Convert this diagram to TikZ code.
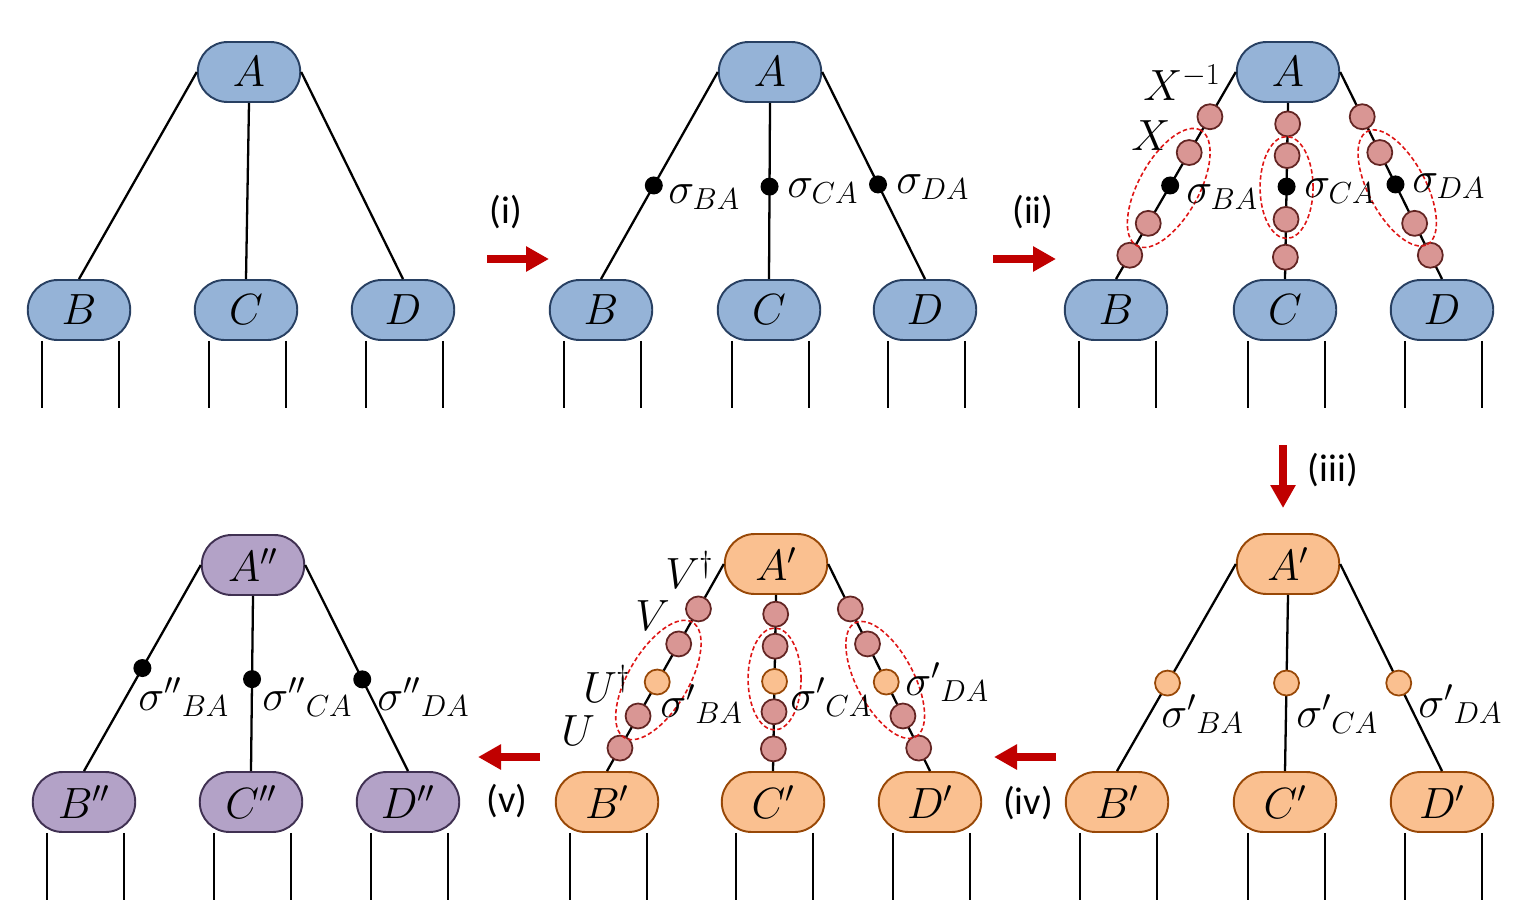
\documentclass[tikz,border=0pt]{standalone}
\usepackage{fontspec}
\usepackage{tikz}
\usetikzlibrary{arrows.meta, calc, positioning}
\newfontfamily\stepfont{Carlito}
\DeclareMathSizes{24.88}{24.88}{17.28}{14.4}
\definecolor{tblue}{RGB}{149, 179, 215}
\definecolor{tbluedk}{RGB}{40, 64, 98}
\definecolor{torange}{RGB}{250, 192, 144}
\definecolor{torangedk}{RGB}{152, 72, 7}
\definecolor{tpurple}{RGB}{179, 162, 199}
\definecolor{tpurpledk}{RGB}{64, 49, 82}
\definecolor{tpink}{RGB}{217, 150, 148}
\definecolor{tpinkdk}{RGB}{99, 37, 35}
\definecolor{stepred}{RGB}{192, 0, 0}
\definecolor{grpred}{RGB}{222, 20, 20}

\begin{document}
\begin{tikzpicture}[x=0.02cm, y=-0.02cm,
    tn/.style={rectangle, rounded corners=17pt, draw=#1dk, fill=#1, line width=1.1pt,
        minimum width=2.05cm, minimum height=1.2cm, inner sep=0pt, font=\fontsize{24.88}{28}\selectfont},
    pk/.style={circle, draw=tpinkdk, fill=tpink, line width=1pt, minimum size=0.5cm, inner sep=0pt},
    og/.style={circle, draw=torangedk, fill=torange, line width=1pt, minimum size=0.5cm, inner sep=0pt},
    bdot/.style={circle, fill=black, minimum size=0.36cm, inner sep=0pt},
    bond/.style={line width=1.3pt},
    grp/.style={draw=grpred, dash pattern=on 2.5pt off 1.5pt, line width=0.9pt},
    sig/.style={anchor=base west, inner sep=0pt, font=\fontsize{24.88}{28}\selectfont},
    stp/.style={-{Triangle[length=0.46cm, width=0.48cm]}, line width=0.16cm, stepred},
    stplab/.style={font=\stepfont\fontsize{22}{26}\selectfont}
]
\useasboundingbox (0,0) rectangle (1530,900);

% Panel 0: original tree
\node[tn=tblue] (a0) at (249,72) {$A$};
\node[tn=tblue] (b0) at (79,310) {$B$};
\node[tn=tblue] (c0) at (246,310) {$C$};
\node[tn=tblue] (d0) at (403,310) {$D$};
\draw[bond] (a0.west) -- (b0.north);
\draw[bond] (a0.south) -- (c0.north);
\draw[bond] (a0.east) -- (d0.north);

% Step (i)
\coordinate (i0) at (487,259);
\coordinate (i1) at (549,259);
\draw[stp] (i0) -- (i1);
\node[stplab] (li) at (506,212) {(i)};

% Panel 1: bond matrices
\node[tn=tblue] (a1) at (770,72) {$A$};
\node[tn=tblue] (b1) at (601,310) {$B$};
\node[tn=tblue] (c1) at (769,310) {$C$};
\node[tn=tblue] (d1) at (925,310) {$D$};
\draw[bond] (a1.west) -- (b1.north);
\draw[bond] (a1.south) -- (c1.north);
\draw[bond] (a1.east) -- (d1.north);
\node[bdot] (s1b) at ($(a1.west)!0.548!(b1.north)$) {};
\node[bdot] (s1c) at ($(a1.south)!0.475!(c1.north)$) {};
\node[bdot] (s1d) at ($(a1.east)!0.543!(d1.north)$) {};
\node[sig] (l1b) at (668,203) {$\sigma_{BA}$};
\node[sig] (l1c) at (787,197) {$\sigma_{CA}$};
\node[sig] (l1d) at (896,193) {$\sigma_{DA}$};

% Step (ii)
\coordinate (ii0) at (993,259);
\coordinate (ii1) at (1056,259);
\draw[stp] (ii0) -- (ii1);
\node[stplab] (lii) at (1033,212) {(ii)};

% Panel 2: inserted gauge pairs
\node[tn=tblue] (a2) at (1288,72) {$A$};
\node[tn=tblue] (b2) at (1116,310) {$B$};
\node[tn=tblue] (c2) at (1285,310) {$C$};
\node[tn=tblue] (d2) at (1442,310) {$D$};
\draw[bond] (a2.west) -- (b2.north);
\draw[bond] (a2.south) -- (c2.north);
\draw[bond] (a2.east) -- (d2.north);
\foreach \f/\k in {0.216/1, 0.389/2, 0.731/3, 0.885/4}{
    \node[pk] (x2b\k) at ($(a2.west)!\f!(b2.north)$) {};
    \node[pk] (x2d\k) at ($(a2.east)!\f!(d2.north)$) {};
}
\foreach \f/\k in {0.119/1, 0.299/2, 0.661/3, 0.876/4}
    \node[pk] (x2c\k) at ($(a2.south)!\f!(c2.north)$) {};
\node[bdot] (s2b) at ($(a2.west)!0.548!(b2.north)$) {};
\node[bdot] (s2c) at ($(a2.south)!0.475!(c2.north)$) {};
\node[bdot] (s2d) at ($(a2.east)!0.543!(d2.north)$) {};
\coordinate (g2b) at ($(x2b2)!0.5!(x2b3)$);
\coordinate (g2c) at ($(x2c2)!0.5!(x2c3)$);
\coordinate (g2d) at ($(x2d2)!0.5!(x2d3)$);
\draw[grp, rotate around={61:(g2b)}] (g2b) ellipse (1.32cm and 0.6cm);
\draw[grp] (g2c) ellipse (0.53cm and 1.02cm);
\draw[grp, rotate around={-62:(g2d)}] (g2d) ellipse (1.28cm and 0.57cm);
\node[sig] (l2x) at (1143,100) {$X^{-1}$};
\node[sig] (l2y) at (1131,150) {$X$};
\node[sig] (l2b) at (1186,203) {$\sigma_{BA}$};
\node[sig] (l2c) at (1304,197) {$\sigma_{CA}$};
\node[sig] (l2d) at (1412,192) {$\sigma_{DA}$};

% Step (iii)
\coordinate (iii0) at (1283,445);
\coordinate (iii1) at (1283,508);
\draw[stp] (iii0) -- (iii1);
\node[stplab] (liii) at (1333,470) {(iii)};

% Panel 3: updated tensors
\node[tn=torange] (a3) at (1288,564) {$A'$};
\node[tn=torange] (b3) at (1117,802) {$B'$};
\node[tn=torange] (c3) at (1285,802) {$C'$};
\node[tn=torange] (d3) at (1442,802) {$D'$};
\draw[bond] (a3.west) -- (b3.north);
\draw[bond] (a3.south) -- (c3.north);
\draw[bond] (a3.east) -- (d3.north);
\node[og] (s3b) at ($(a3.west)!0.575!(b3.north)$) {};
\node[og] (s3c) at ($(a3.south)!0.5!(c3.north)$) {};
\node[og] (s3d) at ($(a3.east)!0.575!(d3.north)$) {};
\node[sig] (l3b) at (1161,727) {${\sigma'}_{BA}$};
\node[sig] (l3c) at (1296,727) {${\sigma'}_{CA}$};
\node[sig] (l3d) at (1418,717) {${\sigma'}_{DA}$};

% Step (iv)
\coordinate (iv0) at (1056,757);
\coordinate (iv1) at (994,757);
\draw[stp] (iv0) -- (iv1);
\node[stplab] (liv) at (1028,803) {(iv)};

% Panel 4: decomposed bonds
\node[tn=torange] (a4) at (776,564) {$A'$};
\node[tn=torange] (b4) at (607,802) {$B'$};
\node[tn=torange] (c4) at (773,802) {$C'$};
\node[tn=torange] (d4) at (930,802) {$D'$};
\draw[bond] (a4.west) -- (b4.north);
\draw[bond] (a4.south) -- (c4.north);
\draw[bond] (a4.east) -- (d4.north);
\foreach \f/\k in {0.217/1, 0.386/2, 0.734/3, 0.889/4}{
    \node[pk] (x4b\k) at ($(a4.west)!\f!(b4.north)$) {};
    \node[pk] (x4d\k) at ($(a4.east)!\f!(d4.north)$) {};
}
\foreach \f/\k in {0.109/1, 0.291/2, 0.663/3, 0.874/4}
    \node[pk] (x4c\k) at ($(a4.south)!\f!(c4.north)$) {};
\node[og] (s4b) at ($(a4.west)!0.570!(b4.north)$) {};
\node[og] (s4c) at ($(a4.south)!0.491!(c4.north)$) {};
\node[og] (s4d) at ($(a4.east)!0.570!(d4.north)$) {};
\coordinate (g4b) at ($(x4b2)!0.5!(x4b3)$);
\coordinate (g4c) at ($(x4c2)!0.5!(x4c3)$);
\coordinate (g4d) at ($(x4d2)!0.5!(x4d3)$);
\draw[grp, rotate around={59.5:(g4b)}] (g4b) ellipse (1.34cm and 0.6cm);
\draw[grp] (g4c) ellipse (0.53cm and 1.02cm);
\draw[grp, rotate around={-62:(g4d)}] (g4d) ellipse (1.29cm and 0.57cm);
\node[sig] (l4v) at (665,588) {$V^{\dagger}$};
\node[sig] (l4w) at (635,630) {$V$};
\node[sig] (l4u) at (583,702) {$U^{\dagger}$};
\node[sig] (l4x) at (561,745) {$U$};
\node[sig] (l4b) at (660,717) {${\sigma'}_{BA}$};
\node[sig] (l4c) at (790,710) {${\sigma'}_{CA}$};
\node[sig] (l4d) at (905,695) {${\sigma'}_{DA}$};

% Step (v)
\coordinate (v0) at (540,757);
\coordinate (v1) at (478,757);
\draw[stp] (v0) -- (v1);
\node[stplab] (lv) at (507,801) {(v)};

% Panel 5: final tree
\node[tn=tpurple] (a5) at (253,565) {$A''$};
\node[tn=tpurple] (b5) at (84,802) {$B''$};
\node[tn=tpurple] (c5) at (251,802) {$C''$};
\node[tn=tpurple] (d5) at (408,802) {$D''$};
\draw[bond] (a5.west) -- (b5.north);
\draw[bond] (a5.south) -- (c5.north);
\draw[bond] (a5.east) -- (d5.north);
\node[bdot] (s5b) at ($(a5.west)!0.5!(b5.north)$) {};
\node[bdot] (s5c) at ($(a5.south)!0.475!(c5.north)$) {};
\node[bdot] (s5d) at ($(a5.east)!0.555!(d5.north)$) {};
\node[sig] (l5b) at (138,710) {${\sigma''}_{BA}$};
\node[sig] (l5c) at (262,710) {${\sigma''}_{CA}$};
\node[sig] (l5d) at (377,710) {${\sigma''}_{DA}$};

% Physical legs
\foreach \n in {b0,c0,d0,b1,c1,d1,b2,c2,d2,b3,c3,d3,b4,c4,d4,b5,c5,d5}{
    \draw[bond] ($(\n.south)+(-37,0)$) -- ++(0,67);
    \draw[bond] ($(\n.south)+(40,0)$) -- ++(0,67);
}

\end{tikzpicture}
\end{document}
